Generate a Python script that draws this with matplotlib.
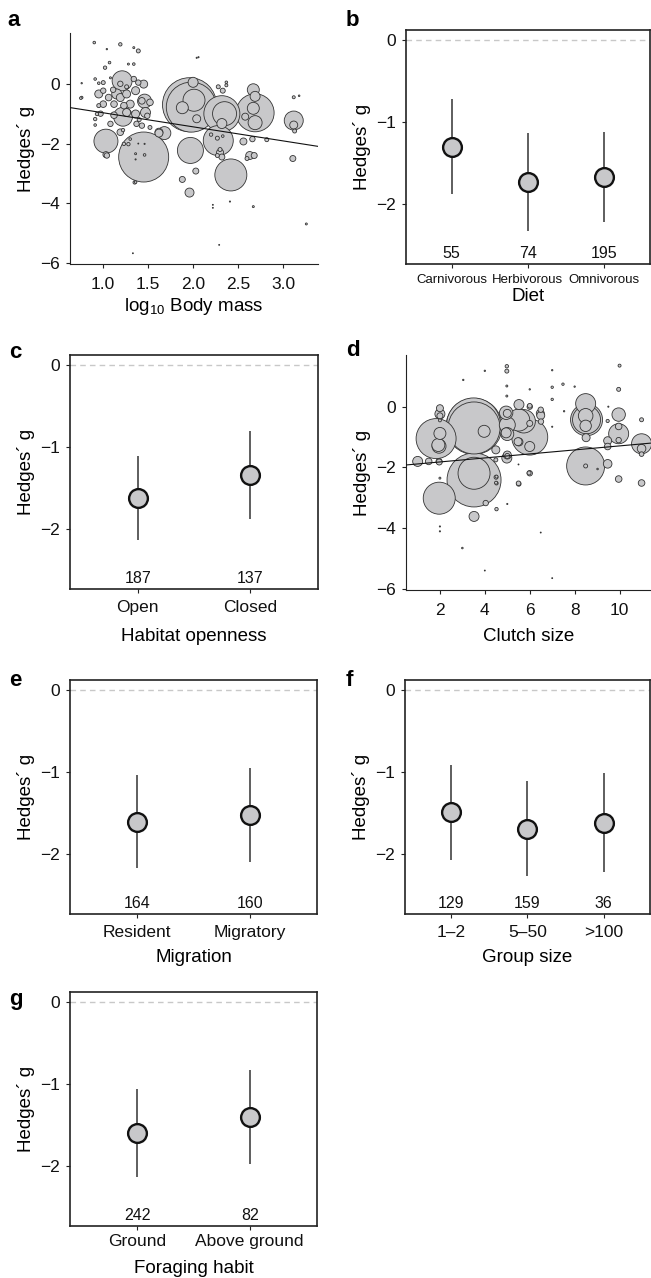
import matplotlib
matplotlib.use("Agg")
import matplotlib.pyplot as plt
import numpy as np

plt.rcParams['font.family'] = ['Liberation Sans', 'DejaVu Sans']
plt.rcParams['mathtext.fontset'] = 'custom'
plt.rcParams['mathtext.rm'] = 'Liberation Sans'
plt.rcParams['mathtext.it'] = 'Liberation Sans'

# ---------------- data ----------------
# panel a: log10 body mass vs Hedges' g, w = relative study weight
a_x = [1.45, 1.96, 1.98, 2.01, 1.88, 2.04, 2.00, 2.32, 2.35, 2.32, 2.69, 2.67, 2.69, 2.67, 2.69, 2.58,
       2.42, 1.97, 2.28, 1.03, 1.21, 1.22, 1.46, 1.68, 1.62, 3.12, 3.12, 3.13, 3.12, 3.18, 3.11, 2.82,
       1.96, 1.88, 2.03, 1.35, 1.03, 2.30, 2.32, 2.27, 2.30, 2.63, 2.60, 2.68, 2.56, 2.66, 2.33, 2.28,
       2.37, 2.37, 2.20, 2.27, 2.33,
       1.36, 1.47, 0.95, 1.00, 1.06, 1.15, 1.26, 1.36, 1.45, 1.39, 1.34, 1.12, 1.23, 1.52, 1.49, 0.97,
       1.08, 1.19, 1.37, 1.43, 1.52, 1.04, 1.00, 0.95, 0.93, 0.91, 1.02, 1.07, 1.39, 1.34, 1.28, 1.34,
       1.19, 0.90, 1.04, 0.76, 0.76, 0.91, 0.91, 1.23, 1.36, 1.46, 1.36, 1.46, 1.36, 1.62, 1.19, 1.26,
       1.12, 1.30, 1.00, 0.95, 1.19, 1.11, 1.26, 1.43, 1.22, 1.30, 1.28,
       3.26, 2.29, 1.33, 2.67, 2.41, 2.22, 2.22, 2.06, 0.75, 1.39, 2.04, 1.08, 1.40]
a_g = [-2.45, -0.70, -0.78, -0.55, -0.80, -1.17, 0.05, -1.00, -1.00, -1.33, -0.97, -0.20, -0.42, -0.82,
       -1.30, -1.10, -3.05, -2.23, -1.90, -1.92, 0.10, -1.10, -0.58, -1.65, -1.65, -1.23, -1.38, -1.58,
       -0.45, -0.40, -2.50, -1.87, -3.64, -3.20, -2.92, -3.30, -2.37, -2.30, -2.45, -2.40, -2.20, -2.40,
       -2.50, -2.40, -1.93, -1.85, -0.23, -0.10, -0.05, 0.05, -1.70, -1.82, -1.75,
       -1.01, -0.96, -0.34, -0.68, -0.46, -0.34, -0.34, -0.23, -0.01, 0.04, 0.16, -0.68, -0.73, -0.62,
       -1.07, -1.00, -1.34, -1.62, -1.34, -1.40, -1.46, -2.40, -0.23, -0.73, -1.01, -1.18, 0.54, 0.71,
       1.10, 1.21, 0.66, 0.66, 1.32, 1.38, 1.16, -0.46, 0.02, 0.16, -1.38, -2.01, -3.29, -2.01, -2.34,
       -2.38, -2.53, -1.62, -0.46, -0.96, -1.05, -0.68, 0.04, 0.02, 0.00, -0.20, -0.10, -0.57, -1.55,
       -1.85, -2.02,
       -4.69, -5.39, -5.67, -4.11, -3.94, -4.05, -4.15, 0.89, -0.48, -2.00, 0.87, 0.20, -1.20]
a_w = [25, 27, 25, 11, 6, 4, 5, 18, 12, 5, 19, 6, 5, 6, 7, 3.5,
       16, 13, 15, 12, 10, 9.5, 7, 6.5, 4, 9.5, 4, 2, 1.5, 0.8, 3, 2,
       4.5, 3, 3, 1.7, 3, 3.5, 3, 2, 2, 4, 2, 3, 3.5, 2.7, 2.5, 2,
       1.5, 1.3, 1.7, 2, 1.3,
       4, 5, 4, 3.3, 3.3, 5, 4, 4, 4, 2.7, 2.7, 3.3, 3.3, 3.3, 2.7, 2.7,
       2.7, 3.3, 2.7, 2.7, 2, 2.7, 2.7, 2, 1.7, 1.7, 1.7, 1.3, 2, 1, 1, 1.3,
       1.7, 1.3, 0.7, 1.3, 0.7, 1.3, 1.3, 1.7, 1.3, 0.6, 1, 1.3, 0.6, 4, 4, 4,
       3.3, 4, 2, 1.3, 2.7, 2.7, 2, 3.3, 1.7, 1.3, 1.7,
       1, 0.5, 0.5, 1, 0.6, 0.5, 0.5, 0.6, 1.3, 0.5, 0.6, 1.0, 2.0]
a_fit = (-0.50, -0.47)   # intercept, slope

# panel d: clutch size vs Hedges' g
d_x = [3.52, 3.50, 3.52, 3.97, 3.52, 3.52, 1.83, 1.97, 2.00, 1.96, 1.93, 2.00, 2.00, 1.01, 1.50, 1.97,
       1.96, 3.52, 4.04, 4.52, 4.49, 4.49, 4.52, 4.98, 4.98, 4.98, 4.98, 4.98, 5.52, 4.95, 5.73, 4.95,
       5.52, 6.00, 5.51, 5.00, 5.00, 5.00, 5.00, 5.48, 6.00, 6.00, 6.00, 6.49, 6.49, 6.50, 6.47, 6.00,
       5.51, 5.97, 5.50, 5.00, 6.00,
       8.49, 8.53, 8.53, 8.49, 8.49, 8.51, 8.49, 9.47, 8.49, 9.02,
       9.96, 9.96, 9.96, 9.96, 9.47, 9.47, 9.96, 9.96, 10.00,
       10.98, 10.98, 10.98, 10.98, 10.98,
       3.04, 4.00, 7.00, 7.00, 7.00, 7.48, 8.00, 7.53, 7.00, 6.00, 9.50, 9.47, 3.00, 4.00, 7.00, 6.49,
       2.00, 2.00, 2.00, 5.50, 5.00, 4.50, 4.52, 4.50, 2.00, 2.00]
d_g = [-0.65, -0.60, -0.70, -0.81, -2.41, -2.19, -1.05, -3.01, -0.88, -1.30, -1.26, -0.24, -0.30,
       -1.80, -1.80, -1.82, -1.80, -3.61, -3.17, -3.37, -1.42, -1.75, -2.52, 1.33, 1.17, 0.68, 0.35,
       -1.69, 0.07, -0.20, -0.48, -0.86, -1.16, -1.00, -0.44, -0.60, -0.90, -0.22, -1.59, -1.15, -1.31,
       0.00, 0.03, -0.10, -0.29, -0.49, -0.22, -2.19, -2.54, -2.18, -2.52, -1.62, -0.55,
       0.10, -0.43, -0.43, -0.30, -0.63, -1.02, -1.95, -1.88, -1.95, -2.05,
       -0.26, -0.89, -0.65, -1.10, -1.12, -1.31, -2.38, 0.57, 1.35,
       -1.22, -1.38, -1.56, -2.51, -0.43,
       0.88, 1.18, 1.20, 0.64, 0.24, 0.74, 0.66, -0.15, -0.66, 0.57, 0.00, -0.47, -4.65, -5.39, -5.64,
       -4.14, -3.94, -4.10, -2.35, -1.90, -3.20, -2.32, -2.30, -2.50, -0.05, -0.45]
d_w = [28, 27, 26, 6, 27, 16, 20, 16, 6, 7, 6.5, 5, 3, 5, 3.3, 3, 3, 5, 2.7, 1.7, 4, 2, 1.7, 1.7, 2,
       1, 1, 5, 5, 6.7, 11.7, 5, 4, 18, 11, 8, 6.5, 4, 4, 4, 5, 2.7, 2.3, 2.7, 4, 2.7, 4, 2.7, 2.3, 2,
       2.3, 2.5, 3,
       10, 16, 14, 7.3, 5.7, 4, 19, 4.3, 2, 0.8,
       6.7, 10, 3.3, 2.7, 4, 3.3, 3.3, 2, 1.5,
       10, 4.3, 2.3, 3.3, 2,
       0.7, 0.7, 0.7, 1.2, 1.2, 1.2, 0.7, 0.7, 0.6, 0.7, 0.6, 1.6, 0.8, 0.5, 0.5, 0.5, 0.6, 0.6, 1, 0.5,
       0.6, 2, 1.5, 1.5, 3.5, 1.5]
d_fit = (-1.95, 0.066)

# categorical panels
diet_cat = ['Carnivorous', 'Herbivorous', 'Omnivorous']
diet_mean = [-1.30, -1.73, -1.67]
diet_lo = [-1.88, -2.33, -2.22]
diet_hi = [-0.72, -1.13, -1.12]
diet_n = [55, 74, 195]

habitat_cat = ['Open', 'Closed']
habitat_mean = [-1.62, -1.34]
habitat_lo = [-2.13, -1.88]
habitat_hi = [-1.11, -0.81]
habitat_n = [187, 137]

migr_cat = ['Resident', 'Migratory']
migr_mean = [-1.61, -1.52]
migr_lo = [-2.17, -2.10]
migr_hi = [-1.04, -0.95]
migr_n = [164, 160]

group_cat = ['1\u20132', '5\u201350', '>100']
group_mean = [-1.49, -1.69, -1.62]
group_lo = [-2.07, -2.27, -2.22]
group_hi = [-0.91, -1.11, -1.01]
group_n = [129, 159, 36]

forage_cat = ['Ground', 'Above ground']
forage_mean = [-1.60, -1.40]
forage_lo = [-2.13, -1.98]
forage_hi = [-1.06, -0.83]
forage_n = [242, 82]

# ---------------- figure ----------------
W, H = 651, 1278
fig = plt.figure(figsize=(W / 100, H / 100), dpi=100)

def ax_px(x0, y0, x1, y1):
    return fig.add_axes([x0 / W, 1 - y1 / H, (x1 - x0) / W, (y1 - y0) / H])

DARK = '#222222'
FILL = '#c8c8ca'
TICK_FS = 12.5
LAB_FS = 13.5
YLAB = 'Hedges\u00b4 g'

def style_ticks(ax, xpad):
    ax.tick_params(axis='both', direction='out', length=3, width=0.8, color=DARK,
                   labelsize=TICK_FS, pad=4.5, labelcolor='#111111')
    ax.tick_params(axis='x', pad=xpad)

def scatter_panel(ax, x, g, w, fit, xlim, xticks, xticklabels, xlabel, xlabelpad):
    order = np.argsort(w)[::-1]
    xs = np.asarray(x)[order]
    gs = np.asarray(g)[order]
    ws = np.asarray(w)[order]
    sizes = (2 * ws * 0.72) ** 2
    ax.scatter(xs, gs, s=sizes, facecolor=FILL, edgecolor='#333333', linewidths=0.6, zorder=2)
    xx = np.array(xlim)
    ax.plot(xx, fit[0] + fit[1] * xx, color='#111111', lw=0.8, zorder=3)
    ax.set_xlim(*xlim)
    ax.set_ylim(-6.03, 1.7)
    ax.set_yticks([0, -2, -4, -6])
    ax.set_xticks(xticks)
    ax.set_xticklabels(xticklabels)
    for s in ['top', 'right']:
        ax.spines[s].set_visible(False)
    for s in ['left', 'bottom']:
        ax.spines[s].set_linewidth(0.8)
        ax.spines[s].set_color(DARK)
    style_ticks(ax, 6.5)
    ax.set_ylabel(YLAB, fontsize=LAB_FS, labelpad=3.5)
    ax.set_xlabel(xlabel, fontsize=LAB_FS, labelpad=xlabelpad)

def cat_panel(ax, cats, mean, lo, hi, n, xlabel, catfs=TICK_FS, xpad=4.0, xlabelpad=8):
    pos = np.arange(1, len(cats) + 1)
    ax.axhline(0, color='#c8c8c8', lw=1.0, ls=(0, (4, 3)), zorder=1)
    ax.vlines(pos, lo, hi, color='#333333', lw=1.1, zorder=2)
    ax.plot(pos, mean, 'o', ms=13.5, mfc=FILL, mec='#111111', mew=1.7, zorder=3)
    for p, k in zip(pos, n):
        ax.text(p, -2.6, str(k), ha='center', va='center', fontsize=11.5, color='#111111')
    ax.set_xlim(0.4, len(cats) + 0.6)
    ax.set_ylim(-2.73, 0.12)
    ax.set_yticks([0, -1, -2])
    ax.set_xticks(pos)
    ax.set_xticklabels(cats)
    for s in ax.spines.values():
        s.set_linewidth(1.2)
        s.set_color(DARK)
    style_ticks(ax, xpad)
    ax.tick_params(axis='x', labelsize=catfs)
    ax.set_ylabel(YLAB, fontsize=LAB_FS, labelpad=3.5)
    ax.set_xlabel(xlabel, fontsize=LAB_FS, labelpad=xlabelpad)

# panel a
axa = ax_px(70, 33, 318, 264)
scatter_panel(axa, a_x, a_g, a_w, a_fit, (0.63, 3.39), [1.0, 1.5, 2.0, 2.5, 3.0],
              ['1.0', '1.5', '2.0', '2.5', '3.0'], 'log$_{10}$ Body mass', 3)

# panel b
axb = ax_px(406, 30, 649.5, 264)
cat_panel(axb, diet_cat, diet_mean, diet_lo, diet_hi, diet_n, 'Diet', catfs=9.5, xpad=4.5,
          xlabelpad=1)

# panel c
axc = ax_px(70, 355, 318, 589)
cat_panel(axc, habitat_cat, habitat_mean, habitat_lo, habitat_hi, habitat_n, 'Habitat openness',
          xpad=5.0, xlabelpad=9)

# panel d
axd = ax_px(406, 355, 651, 590)
scatter_panel(axd, d_x, d_g, d_w, d_fit, (0.49, 11.4), [2, 4, 6, 8, 10],
              ['2', '4', '6', '8', '10'], 'Clutch size', 7)

# panel e
axe = ax_px(70, 680, 317, 914)
cat_panel(axe, migr_cat, migr_mean, migr_lo, migr_hi, migr_n, 'Migration', xpad=5.0,
          xlabelpad=6.5)

# panel f
axf = ax_px(405, 680, 649.5, 914)
cat_panel(axf, group_cat, group_mean, group_lo, group_hi, group_n, 'Group size', xpad=5.0,
          xlabelpad=6.5)

# panel g
axg = ax_px(70, 992, 317, 1226)
cat_panel(axg, forage_cat, forage_mean, forage_lo, forage_hi, forage_n, 'Foraging habit',
          xpad=2.5, xlabelpad=8)

# panel letters
for lab, (px, py) in {'a': (7, 20), 'b': (346, 20), 'c': (9, 352), 'd': (346, 350),
                      'e': (9, 680), 'f': (346, 680), 'g': (9, 1000)}.items():
    fig.text(px / W, 1 - py / H, lab, fontsize=16, fontweight='bold', ha='left', va='center')

fig.savefig('out.png', dpi=100)
